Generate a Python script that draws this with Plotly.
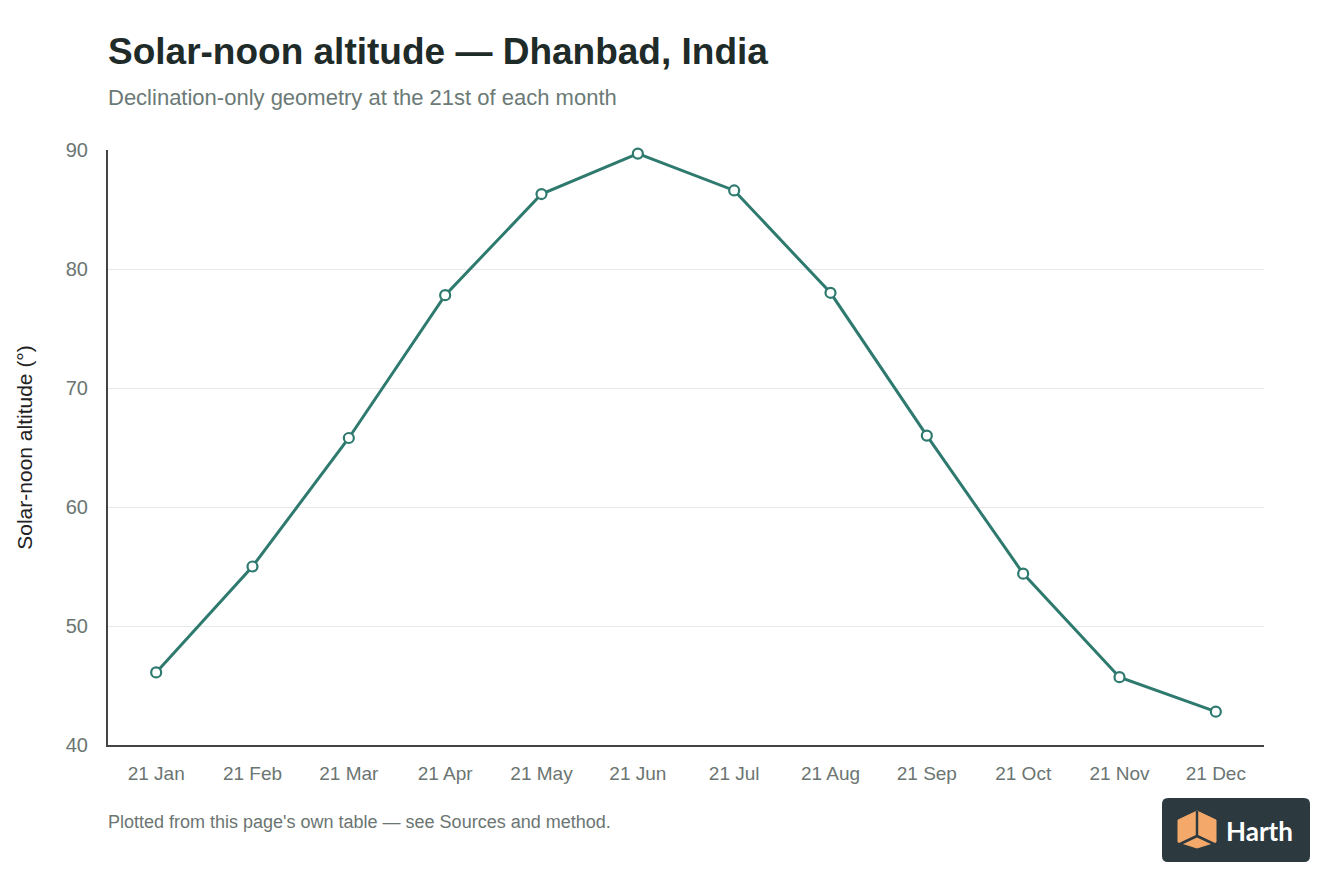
import plotly.graph_objects as go

months = ["21 Jan", "21 Feb", "21 Mar", "21 Apr", "21 May", "21 Jun",
          "21 Jul", "21 Aug", "21 Sep", "21 Oct", "21 Nov", "21 Dec"]
altitude = [46.1, 55.0, 65.8, 77.8, 86.3, 89.7, 86.6, 78.0, 66.0, 54.4, 45.7, 42.8]
y_ticks = [40, 50, 60, 70, 80, 90]

# page puts the figure 8px in from the corner, so work in screen pixels
OFF = 8
W, H = 1344, 896
PL, PR, PT, PB = 108, 1264, 150, 745  # plot area on screen
L, T = PL - OFF, PT - OFF
R, B = W - (PR - OFF), H - (PB - OFF)
PW, PH = PR - PL, PB - PT


def px(x):
    return (x - PL) / PW


def py(y):
    return (PB - y) / PH


fig = go.Figure(go.Scatter(
    x=months, y=altitude, mode="lines+markers",
    line=dict(color="#2e7a6e", width=3),
    marker=dict(size=10, color="white", line=dict(color="#2e7a6e", width=2.2)),
    hoverinfo="x+y", showlegend=False, cliponaxis=False,
))

# logo badge, bottom right
x0, x1, y0, y1, r = 1162, 1310, 798, 862, 6
badge = (f"M{px(x0 + r)},{py(y0)} L{px(x1 - r)},{py(y0)} Q{px(x1)},{py(y0)} {px(x1)},{py(y0 + r)} "
         f"L{px(x1)},{py(y1 - r)} Q{px(x1)},{py(y1)} {px(x1 - r)},{py(y1)} "
         f"L{px(x0 + r)},{py(y1)} Q{px(x0)},{py(y1)} {px(x0)},{py(y1 - r)} "
         f"L{px(x0)},{py(y0 + r)} Q{px(x0)},{py(y0)} {px(x0 + r)},{py(y0)} Z")
cube = [(1197, 811), (1216, 820), (1216, 842), (1197, 848), (1178, 842), (1178, 820)]
cube_path = "M" + " L".join(f"{px(a)},{py(b)}" for a, b in cube) + " Z"
edges = [((1197, 811), (1197, 836)), ((1197, 836), (1180, 844)), ((1197, 836), (1214, 844))]

shapes = [
    dict(type="path", path=badge, xref="paper", yref="paper",
         fillcolor="#2c3a40", line=dict(width=0), layer="above"),
    dict(type="path", path=cube_path, xref="paper", yref="paper",
         fillcolor="#f4a96a", line=dict(color="#f4a96a", width=1), layer="above"),
]
for (a, b), (c, d) in edges:
    shapes.append(dict(type="line", xref="paper", yref="paper",
                       x0=px(a), y0=py(b), x1=px(c), y1=py(d),
                       line=dict(color="#2c3a40", width=2.5), layer="above"))

fig.update_layout(
    width=W, height=H,
    margin=dict(l=L, r=R, t=T, b=B),
    paper_bgcolor="white", plot_bgcolor="white",
    font=dict(family="Liberation Sans, Arial, sans-serif", color="#6b7572", size=19),
    xaxis=dict(
        type="category", range=[-0.5, 11.5], showgrid=False, zeroline=False,
        showline=True, linecolor="#444", linewidth=2, ticks="",
        tickfont=dict(size=19, color="#6b7572"), ticklabelstandoff=10,
    ),
    yaxis=dict(
        range=[40, 90], tickvals=y_ticks, showgrid=True, gridcolor="#e6e9e8",
        gridwidth=1, zeroline=False, showline=True, linecolor="#444", linewidth=2,
        ticks="", tickfont=dict(size=20, color="#6b7572"), ticklabelstandoff=14,
        title=dict(text="Solar-noon altitude (°)", font=dict(size=21, color="#222"), standoff=27),
    ),
    shapes=shapes,
    annotations=[
        dict(text="<b>Solar-noon altitude — Dhanbad, India</b>", xref="paper", yref="paper",
             x=px(106), y=py(52), xanchor="left", yanchor="middle", showarrow=False,
             font=dict(size=37, color="#1e2b28", family="Liberation Sans, Arial, sans-serif")),
        dict(text="Declination-only geometry at the 21st of each month", xref="paper", yref="paper",
             x=px(106), y=py(97), xanchor="left", yanchor="middle", showarrow=False,
             font=dict(size=22, color="#6b7a76")),
        dict(text="Plotted from this page's own table — see Sources and method.", xref="paper",
             yref="paper", x=px(106), y=py(822), xanchor="left", yanchor="middle",
             showarrow=False, font=dict(size=18, color="#6b7572")),
        dict(text="<b>Harth</b>", xref="paper", yref="paper", x=px(1224), y=py(831),
             xanchor="left", yanchor="middle", showarrow=False,
             font=dict(size=26, color="white", family="Lato, Liberation Sans, sans-serif")),
    ],
)

fig.write_html("out.html")
